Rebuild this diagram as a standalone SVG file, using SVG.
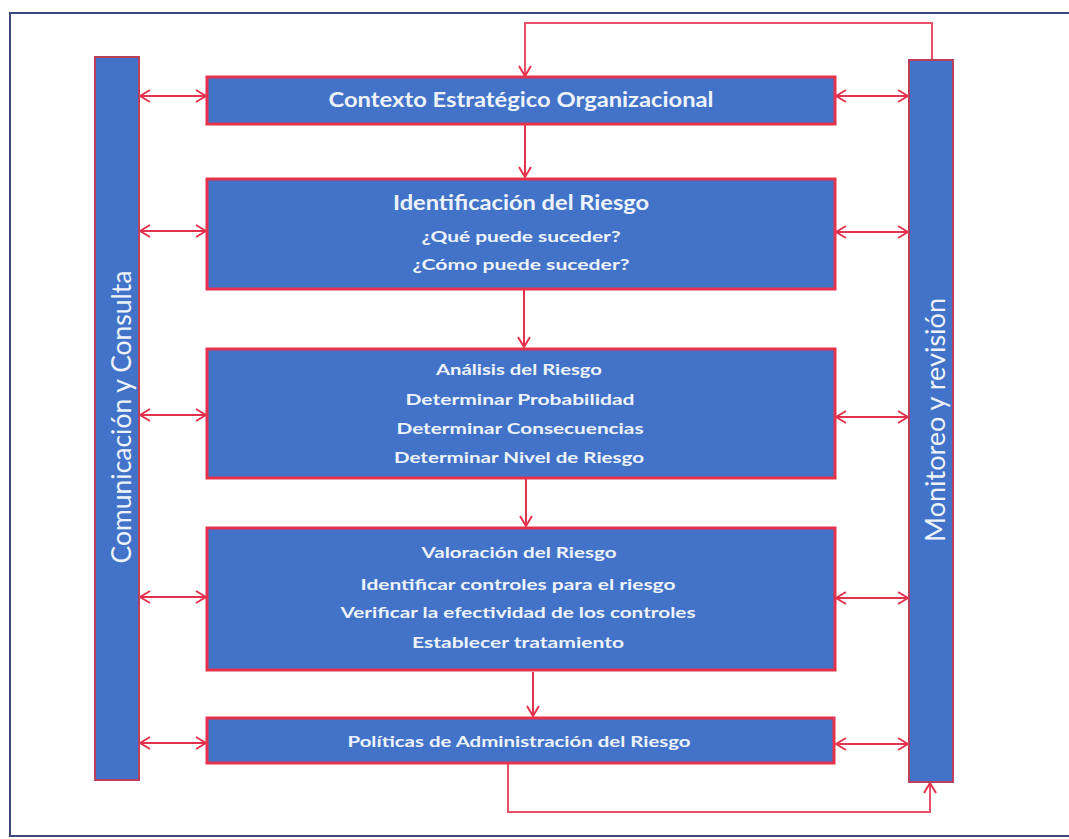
<svg xmlns="http://www.w3.org/2000/svg" width="1069" height="839" viewBox="0 0 1069 839">
  <defs>
    <marker id="arr" markerUnits="userSpaceOnUse" markerWidth="12" markerHeight="14" viewBox="0 0 12 14" refX="11" refY="7" orient="auto-start-reverse">
      <path d="M1,1 L11,7 L1,13" fill="none" stroke="#e5324c" stroke-width="2"/>
    </marker>
    <style>
      .box { fill: #4273c8; stroke: #e5324c; stroke-width: 3; }
      .bar { fill: #4273c8; stroke: #b8405c; stroke-width: 2; }
      .t { font-family: Lato, "Liberation Sans", sans-serif; fill: #eef3fb; text-anchor: middle; font-weight: bold; }
      .h { font-size: 20px; }
      .s { font-size: 15px; }
      .v { font-family: Lato, "Liberation Sans", sans-serif; fill: #eef3fb; text-anchor: middle; font-size: 27px; }
      .c { fill: none; stroke: #e5324c; stroke-width: 2; }
      .f { fill: none; stroke: #e8506a; stroke-width: 2; }
    </style>
  </defs>
  <rect x="0" y="0" width="1069" height="839" fill="#ffffff"/>
  <rect id="frame" x="10" y="13" width="1075" height="823" fill="none" stroke="#3b4a7a" stroke-width="2"/>

  <g id="connectors">
    <!-- top feedback -->
    <polyline class="f" points="932,60 932,23 525,23 525,76" marker-end="url(#arr)"/>
    <!-- vertical flow -->
    <line class="c" x1="525" y1="125" x2="525" y2="177" marker-end="url(#arr)"/>
    <line class="c" x1="524" y1="290" x2="524" y2="347" marker-end="url(#arr)"/>
    <line class="c" x1="526" y1="479" x2="526" y2="526" marker-end="url(#arr)"/>
    <line class="c" x1="533" y1="672" x2="533" y2="716" marker-end="url(#arr)"/>
    <!-- bottom feedback -->
    <polyline class="f" points="508,763 508,812 930,812 930,783" marker-end="url(#arr)"/>
    <!-- left double arrows -->
    <line class="c" x1="140" y1="96" x2="206" y2="96" marker-start="url(#arr)" marker-end="url(#arr)"/>
    <line class="c" x1="140" y1="231" x2="206" y2="231" marker-start="url(#arr)" marker-end="url(#arr)"/>
    <line class="c" x1="140" y1="415" x2="206" y2="415" marker-start="url(#arr)" marker-end="url(#arr)"/>
    <line class="c" x1="140" y1="597" x2="206" y2="597" marker-start="url(#arr)" marker-end="url(#arr)"/>
    <line class="c" x1="140" y1="743" x2="206" y2="743" marker-start="url(#arr)" marker-end="url(#arr)"/>
    <!-- right double arrows -->
    <line class="c" x1="836" y1="96" x2="908" y2="96" marker-start="url(#arr)" marker-end="url(#arr)"/>
    <line class="c" x1="836" y1="232" x2="908" y2="232" marker-start="url(#arr)" marker-end="url(#arr)"/>
    <line class="c" x1="836" y1="417" x2="908" y2="417" marker-start="url(#arr)" marker-end="url(#arr)"/>
    <line class="c" x1="836" y1="598" x2="908" y2="598" marker-start="url(#arr)" marker-end="url(#arr)"/>
    <line class="c" x1="836" y1="744" x2="908" y2="744" marker-start="url(#arr)" marker-end="url(#arr)"/>
  </g>

  <g id="comunicacion">
    <rect class="bar" x="95" y="57" width="44" height="723"/>
    <text class="v" transform="translate(131,417) rotate(-90)" textLength="293" lengthAdjust="spacingAndGlyphs">Comunicación y Consulta</text>
  </g>

  <g id="monitoreo">
    <rect class="bar" x="909" y="60" width="44" height="722"/>
    <text class="v" transform="translate(945,420) rotate(-90)" textLength="244" lengthAdjust="spacingAndGlyphs">Monitoreo y revisión</text>
  </g>

  <g id="contexto">
    <rect class="box" x="207" y="77" width="628" height="47"/>
    <text class="t h" x="521" y="107" textLength="385" lengthAdjust="spacingAndGlyphs">Contexto Estratégico Organizacional</text>
  </g>

  <g id="identificacion">
    <rect class="box" x="207" y="179" width="628" height="110"/>
    <text class="t h" x="521" y="210" textLength="256" lengthAdjust="spacingAndGlyphs">Identificación del Riesgo</text>
    <text class="t s" x="521" y="242" textLength="199" lengthAdjust="spacingAndGlyphs">¿Qué puede suceder?</text>
    <text class="t s" x="521" y="270" textLength="217" lengthAdjust="spacingAndGlyphs">¿Cómo puede suceder?</text>
  </g>

  <g id="analisis">
    <rect class="box" x="207" y="349" width="628" height="129"/>
    <text class="t s" x="519" y="375" textLength="166" lengthAdjust="spacingAndGlyphs">Análisis del Riesgo</text>
    <text class="t s" x="520" y="405" textLength="229" lengthAdjust="spacingAndGlyphs">Determinar Probabilidad</text>
    <text class="t s" x="520" y="434" textLength="247" lengthAdjust="spacingAndGlyphs">Determinar Consecuencias</text>
    <text class="t s" x="519" y="463" textLength="250" lengthAdjust="spacingAndGlyphs">Determinar Nivel de Riesgo</text>
  </g>

  <g id="valoracion">
    <rect class="box" x="207" y="528" width="628" height="142"/>
    <text class="t s" x="519" y="558" textLength="195" lengthAdjust="spacingAndGlyphs">Valoración del Riesgo</text>
    <text class="t s" x="518" y="590" textLength="315" lengthAdjust="spacingAndGlyphs">Identificar controles para el riesgo</text>
    <text class="t s" x="518" y="618" textLength="355" lengthAdjust="spacingAndGlyphs">Verificar la efectividad de los controles</text>
    <text class="t s" x="518" y="648" textLength="212" lengthAdjust="spacingAndGlyphs">Establecer tratamiento</text>
  </g>

  <g id="politicas">
    <rect class="box" x="207" y="718" width="627" height="45"/>
    <text class="t s" x="519" y="747" textLength="343" lengthAdjust="spacingAndGlyphs">Políticas de Administración del Riesgo</text>
  </g>
</svg>
